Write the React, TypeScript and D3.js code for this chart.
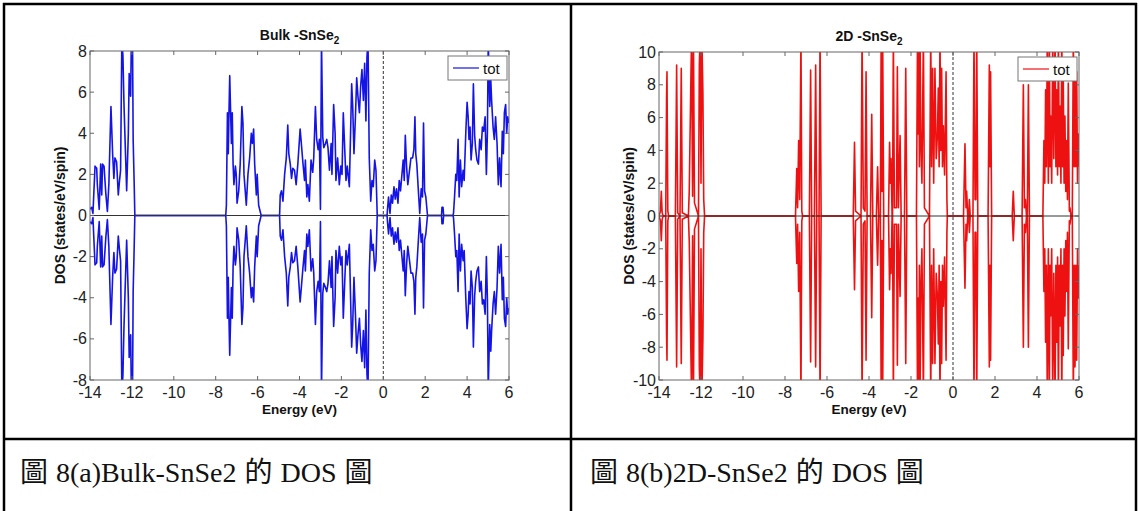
import React from "react";
import * as d3 from "d3";

// ---------- data ----------
const xTicks = [-14, -12, -10, -8, -6, -4, -2, 0, 2, 4, 6];
const bulkYTicks = [-8, -6, -4, -2, 0, 2, 4, 6, 8];
const twoDYTicks = [-10, -8, -6, -4, -2, 0, 2, 4, 6, 8, 10];

// Bulk-SnSe2 total DOS (spin up; spin down is mirrored)
const bulkDos: [number, number][] = [
  [-14.0, 0.3], [-13.92, 0.4], [-13.86, 0.1], [-13.76, 2.4], [-13.68, 2.3], [-13.65, 1.5], [-13.56, 0.3],
  [-13.49, 2.5], [-13.44, 1.0], [-13.4, 2.5], [-13.33, 2.4], [-13.24, 1.0], [-13.17, 0.2], [-13.1, 1.5],
  [-13.0, 5.3], [-12.92, 3.0], [-12.86, 1.8], [-12.81, 2.8], [-12.73, 2.6], [-12.65, 1.0], [-12.6, 1.6],
  [-12.54, 2.2], [-12.48, 8.5], [-12.43, 7.8], [-12.38, 5.5], [-12.33, 3.8], [-12.25, 1.2], [-12.17, 4.0],
  [-12.13, 6.9], [-12.06, 5.8], [-12.02, 9.0], [-11.97, 8.5], [-11.94, 3.7], [-11.89, 1.5], [-11.86, 0],
  [-7.52, 0], [-7.49, 0.5], [-7.44, 5.0], [-7.4, 3.0], [-7.37, 4.8], [-7.33, 6.8], [-7.3, 5.5], [-7.25, 3.5],
  [-7.21, 5.0], [-7.17, 2.5], [-7.13, 1.5], [-7.06, 2.4], [-7.02, 2.0], [-6.98, 0.6], [-6.9, 1.2], [-6.83, 2.5],
  [-6.75, 5.3], [-6.7, 4.5], [-6.65, 2.0], [-6.59, 1.2], [-6.54, 0.5], [-6.46, 2.0], [-6.38, 2.8], [-6.3, 4.0],
  [-6.25, 3.5], [-6.19, 4.2], [-6.14, 2.5], [-6.06, 1.0], [-6.02, 2.0], [-5.95, 0.5], [-5.83, 0],
  [-4.95, 0], [-4.92, 1.0], [-4.86, 1.2], [-4.79, 0.7], [-4.71, 2.0], [-4.63, 2.8], [-4.56, 4.4], [-4.51, 3.0],
  [-4.44, 2.5], [-4.38, 1.8], [-4.32, 2.3], [-4.24, 2.2], [-4.16, 1.5], [-4.08, 2.5], [-3.97, 4.2], [-3.92, 3.6],
  [-3.84, 2.6], [-3.76, 1.7], [-3.72, 2.7], [-3.65, 0.9], [-3.6, 1.5], [-3.53, 0.7], [-3.45, 2.7], [-3.37, 2.1],
  [-3.32, 2.8], [-3.24, 5.3], [-3.18, 3.7], [-3.11, 3.2], [-3.05, 3.7], [-3.0, 0.3], [-2.95, 8.5], [-2.89, 3.8],
  [-2.84, 3.3], [-2.76, 3.5], [-2.7, 3.7], [-2.64, 3.3], [-2.57, 2.2], [-2.49, 3.5], [-2.45, 2.0], [-2.37, 5.4],
  [-2.3, 4.0], [-2.26, 1.7], [-2.18, 2.8], [-2.1, 1.5], [-2.03, 2.4], [-1.97, 2.0], [-1.91, 5.0], [-1.84, 3.2],
  [-1.78, 1.7], [-1.72, 2.4], [-1.62, 1.4], [-1.56, 4.1], [-1.51, 6.4], [-1.46, 5.3], [-1.4, 3.0], [-1.33, 4.8],
  [-1.27, 6.7], [-1.21, 5.8], [-1.14, 5.0], [-1.08, 6.3], [-1.02, 7.1], [-0.95, 5.6], [-0.89, 7.4], [-0.83, 4.6],
  [-0.78, 7.7], [-0.73, 8.5], [-0.67, 2.8], [-0.6, 0.7], [-0.54, 1.7], [-0.48, 1.4], [-0.41, 2.7], [-0.35, 2.2],
  [-0.29, 0],
  [0.18, 0], [0.2, 0.3], [0.25, 0.9], [0.32, 0.1], [0.38, 1.0], [0.44, 0.6], [0.51, 1.4], [0.57, 0.8], [0.63, 1.3],
  [0.7, 0.6], [0.76, 1.7], [0.82, 1.2], [0.89, 2.0], [0.95, 2.7], [1.0, 1.7], [1.05, 3.9], [1.11, 2.4], [1.17, 1.5],
  [1.24, 2.1], [1.32, 2.8], [1.4, 2.8], [1.46, 3.2], [1.51, 4.8], [1.55, 3.0], [1.6, 2.5], [1.68, 1.1], [1.74, 0.1],
  [1.81, 1.3], [1.87, 0.9], [1.92, 4.5], [1.97, 1.2], [2.03, 0.9], [2.11, 0],
  [2.78, 0], [2.8, 0.4], [2.85, 0.4], [2.88, 0],
  [3.33, 0], [3.35, 0.1], [3.4, 0.9], [3.46, 2.0], [3.51, 1.7], [3.57, 3.7], [3.62, 0.9], [3.68, 2.7], [3.74, 1.4],
  [3.81, 2.2], [3.86, 1.7], [3.94, 4.1], [4.0, 5.5], [4.05, 4.8], [4.09, 3.7], [4.14, 4.3], [4.19, 2.7], [4.25, 3.5],
  [4.3, 6.4], [4.36, 3.9], [4.41, 3.2], [4.47, 2.7], [4.54, 2.5], [4.6, 3.7], [4.67, 3.2], [4.73, 4.3], [4.79, 4.1],
  [4.86, 4.8], [4.92, 2.0], [4.97, 4.1], [5.01, 8.5], [5.08, 5.3], [5.13, 6.6], [5.17, 5.6], [5.24, 4.3], [5.3, 3.7],
  [5.36, 4.8], [5.43, 3.5], [5.49, 1.5], [5.55, 2.8], [5.62, 1.4], [5.68, 4.1], [5.73, 3.0], [5.78, 5.0], [5.84, 5.4],
  [5.89, 4.0], [5.94, 4.8], [6.0, 4.5],
];

// 2D-SnSe2 total DOS (spin up; spin down is mirrored)
const twoDDos: [number, number][] = [
  [-14.0, 0], [-13.93, 0.3], [-13.89, 1.5], [-13.85, 0.2], [-13.8, 0],
  [-13.68, 0], [-13.64, 7.2], [-13.62, 8.8], [-13.58, 0.3], [-13.54, 0],
  [-13.22, 0], [-13.16, 9.2], [-13.11, 0.2], [-13.0, 0], [-12.94, 9.0], [-12.89, 0.2],
  [-12.6, 0], [-12.56, 1.5], [-12.45, 11], [-12.4, 1.2], [-12.36, 11], [-12.31, 0.8],
  [-12.12, 0], [-12.08, 9.2], [-12.04, 11], [-12.0, 2.0], [-11.96, 11], [-11.91, 7.5], [-11.87, 1.0], [-11.83, 0],
  [-7.5, 0], [-7.44, 2.9], [-7.4, 0.5], [-7.35, 4.6], [-7.3, 1.0], [-7.24, 11], [-7.2, 0.3], [-7.16, 0],
  [-6.84, 0], [-6.78, 8.9], [-6.73, 0], [-6.6, 0], [-6.54, 9.2], [-6.49, 0], [-6.38, 0], [-6.33, 11], [-6.28, 0],
  [-4.75, 0], [-4.69, 4.5], [-4.64, 0.3], [-4.38, 0], [-4.33, 11], [-4.27, 0.5], [-4.19, 0.3], [-4.14, 8.8],
  [-4.09, 0], [-3.93, 0], [-3.87, 6.2], [-3.82, 0], [-3.65, 0], [-3.59, 3.0], [-3.54, 0],
  [-3.46, 0], [-3.42, 11], [-3.38, 1.5], [-3.35, 11], [-3.3, 0],
  [-3.07, 0], [-3.02, 4.5], [-2.98, 2.0], [-2.95, 3.5], [-2.9, 0], [-2.88, 0], [-2.84, 11], [-2.79, 0.5],
  [-2.69, 0.5], [-2.65, 9.1], [-2.6, 0.5], [-2.52, 4.9], [-2.47, 0], [-2.31, 0], [-2.25, 9.0], [-2.2, 0],
  [-1.74, 0], [-1.69, 11], [-1.66, 5.0], [-1.63, 11], [-1.6, 3.0], [-1.57, 11], [-1.53, 4.5], [-1.48, 2.0],
  [-1.41, 11], [-1.36, 0.5], [-1.12, 0], [-1.06, 11], [-1.02, 3.0], [-0.97, 9.0], [-0.92, 2.0], [-0.86, 9.0],
  [-0.8, 3.5], [-0.74, 5.0], [-0.7, 7.8], [-0.66, 3.0], [-0.62, 11], [-0.58, 4.0], [-0.54, 9.0], [-0.5, 3.0],
  [-0.46, 5.5], [-0.4, 2.5], [-0.33, 8.8], [-0.29, 1.0], [-0.27, 0],
  [0.5, 0], [0.57, 4.4], [0.62, 0.5], [0.65, 1.5], [0.7, 0], [0.75, 0], [0.78, 1.0], [0.82, 0],
  [0.95, 0], [1.0, 11], [1.05, 1.0], [1.09, 1.0], [1.13, 11], [1.18, 0],
  [1.67, 0], [1.73, 9.2], [1.76, 3.0], [1.79, 8.8], [1.84, 0],
  [2.82, 0], [2.87, 1.5], [2.92, 0],
  [3.29, 0], [3.35, 8.0], [3.4, 0.5], [3.45, 1.0], [3.5, 0], [3.54, 0], [3.59, 8.0], [3.64, 0],
  [4.28, 0], [4.33, 4.6], [4.37, 2.0], [4.41, 7.7], [4.45, 3.0], [4.49, 11], [4.54, 2.0], [4.59, 11], [4.62, 3.0],
  [4.65, 6.1], [4.7, 2.0], [4.75, 11], [4.8, 3.5], [4.86, 11], [4.9, 3.0], [4.94, 7.7], [4.98, 2.5], [5.02, 11],
  [5.06, 3.0], [5.1, 6.7], [5.14, 2.0], [5.18, 11], [5.22, 3.0], [5.25, 8.5], [5.29, 2.0], [5.33, 6.1], [5.37, 1.5],
  [5.41, 4.6], [5.45, 1.0], [5.49, 8.1], [5.54, 0.3], [5.57, 0.5], [5.62, 0], [5.68, 0], [5.73, 11], [5.77, 3.0],
  [5.81, 9.2], [5.85, 3.0], [5.89, 8.8], [5.93, 2.0], [5.97, 5.0], [6.0, 3.0],
];

// ---------- layout ----------
const W = 1139;
const H = 511;
const AXIS_FONT = "'Liberation Sans', Arial, Helvetica, sans-serif";
const CAPTION_FONT = "'Liberation Serif', 'Noto Sans CJK TC', serif";

type PanelProps = {
  id: string;
  x0: number;
  x1: number;
  y0: number;
  y1: number;
  data: [number, number][];
  yTicks: number[];
  yMax: number;
  color: string;
  titleMain: string;
};

function Panel({ id, x0, x1, y0, y1, data, yTicks, yMax, color, titleMain }: PanelProps) {
  const x = d3.scaleLinear().domain([-14, 6]).range([x0, x1]);
  const y = d3.scaleLinear().domain([-yMax, yMax]).range([y1, y0]);
  const up = d3
    .line<[number, number]>()
    .x((d) => x(d[0]))
    .y((d) => y(d[1]))(data) as string;
  const down = d3
    .line<[number, number]>()
    .x((d) => x(d[0]))
    .y((d) => y(-d[1]))(data) as string;
  const cx = (x0 + x1) / 2;
  const cy = (y0 + y1) / 2;
  const tick = 4;
  const axisColor = "#666";
  const lx0 = x1 - 61;
  const ly0 = y0 + 5;
  return (
    <g>
      <defs>
        <clipPath id={id}>
          <rect x={x0} y={y0} width={x1 - x0} height={y1 - y0} />
        </clipPath>
      </defs>
      <text
        x={cx}
        y={y0 - 11}
        textAnchor="middle"
        fontFamily={AXIS_FONT}
        fontWeight="bold"
        fontSize={14}
        fill="#111"
      >
        {titleMain}
        <tspan dy={4} fontSize={10}>
          2
        </tspan>
      </text>
      <g clipPath={`url(#${id})`}>
        <path d={up} fill="none" stroke={color} strokeWidth={1.6} strokeLinejoin="round" />
        <path d={down} fill="none" stroke={color} strokeWidth={1.6} strokeLinejoin="round" />
      </g>
      <line x1={x0} x2={x1} y1={y(0)} y2={y(0)} stroke="#333" strokeWidth={1} />
      <line x1={x(0)} x2={x(0)} y1={y0} y2={y1} stroke="#333" strokeWidth={1} strokeDasharray="3,2" />
      <rect x={x0} y={y0} width={x1 - x0} height={y1 - y0} fill="none" stroke={axisColor} strokeWidth={1} />
      {xTicks.map((t) => (
        <g key={`x${t}`}>
          <line x1={x(t)} x2={x(t)} y1={y1} y2={y1 - tick} stroke={axisColor} />
          <line x1={x(t)} x2={x(t)} y1={y0} y2={y0 + tick} stroke={axisColor} />
          <text
            x={x(t)}
            y={y1 + 18}
            textAnchor="middle"
            fontFamily={AXIS_FONT}
            fontSize={16}
            fill="#222"
          >
            {String(t)}
          </text>
        </g>
      ))}
      {yTicks.map((t) => (
        <g key={`y${t}`}>
          <line x1={x0} x2={x0 + tick} y1={y(t)} y2={y(t)} stroke={axisColor} />
          <line x1={x1} x2={x1 - tick} y1={y(t)} y2={y(t)} stroke={axisColor} />
          <text
            x={x0 - 3}
            y={y(t) + 5.5}
            textAnchor="end"
            fontFamily={AXIS_FONT}
            fontSize={16}
            fill="#222"
          >
            {String(t)}
          </text>
        </g>
      ))}
      <text
        x={cx}
        y={y1 + 34}
        textAnchor="middle"
        fontFamily={AXIS_FONT}
        fontWeight="bold"
        fontSize={13.5}
        fill="#111"
      >
        Energy (eV)
      </text>
      <text
        transform={`translate(${x0 - 25},${cy}) rotate(-90)`}
        textAnchor="middle"
        fontFamily={AXIS_FONT}
        fontWeight="bold"
        fontSize={14}
        fill="#111"
      >
        DOS (states/eV/spin)
      </text>
      <g>
        <rect x={lx0} y={ly0} width={59} height={24} fill="#fff" stroke="#777" strokeWidth={1} />
        <line x1={lx0 + 5} x2={lx0 + 31} y1={ly0 + 12} y2={ly0 + 12} stroke={color} strokeWidth={1.2} />
        <text x={lx0 + 35} y={ly0 + 17.5} fontFamily={AXIS_FONT} fontSize={15} fill="#111">
          tot
        </text>
      </g>
    </g>
  );
}

export default function App() {
  return (
    <div style={{ position: "absolute", left: 0, top: 0 }}>
      <svg width={W} height={H} style={{ display: "block", background: "#fff" }}>
        <rect x={0} y={0} width={W} height={H} fill="#fff" />
        <Panel
          id="clipBulk"
          x0={90}
          x1={509}
          y0={51}
          y1={380}
          data={bulkDos}
          yTicks={bulkYTicks}
          yMax={8}
          color="#1414e6"
          titleMain="Bulk -SnSe"
        />
        <Panel
          id="clip2D"
          x0={659}
          x1={1079}
          y0={52}
          y1={380}
          data={twoDDos}
          yTicks={twoDYTicks}
          yMax={10}
          color="#ee1111"
          titleMain="2D -SnSe"
        />
        {/* table grid */}
        <g stroke="#000" strokeWidth={2.5} fill="none">
          <line x1={4} x2={4} y1={3} y2={H} />
          <line x1={571} x2={571} y1={3} y2={H} />
          <line x1={1136} x2={1136} y1={3} y2={H} />
          <line x1={3} x2={1137} y1={4} y2={4} />
          <line x1={3} x2={1137} y1={439} y2={439} />
        </g>
        <text fontFamily={CAPTION_FONT} fontSize={28} fill="#111" x={20} y={482}>
          <tspan>圖</tspan>
          <tspan dx={8}>8(a)Bulk-SnSe2</tspan>
          <tspan dx={8}>的</tspan>
          <tspan dx={8}>DOS</tspan>
          <tspan dx={8}>圖</tspan>
        </text>
        <text fontFamily={CAPTION_FONT} fontSize={28} fill="#111" x={590} y={482}>
          <tspan>圖</tspan>
          <tspan dx={8}>8(b)2D-SnSe2</tspan>
          <tspan dx={8}>的</tspan>
          <tspan dx={8}>DOS</tspan>
          <tspan dx={8}>圖</tspan>
        </text>
      </svg>
    </div>
  );
}
